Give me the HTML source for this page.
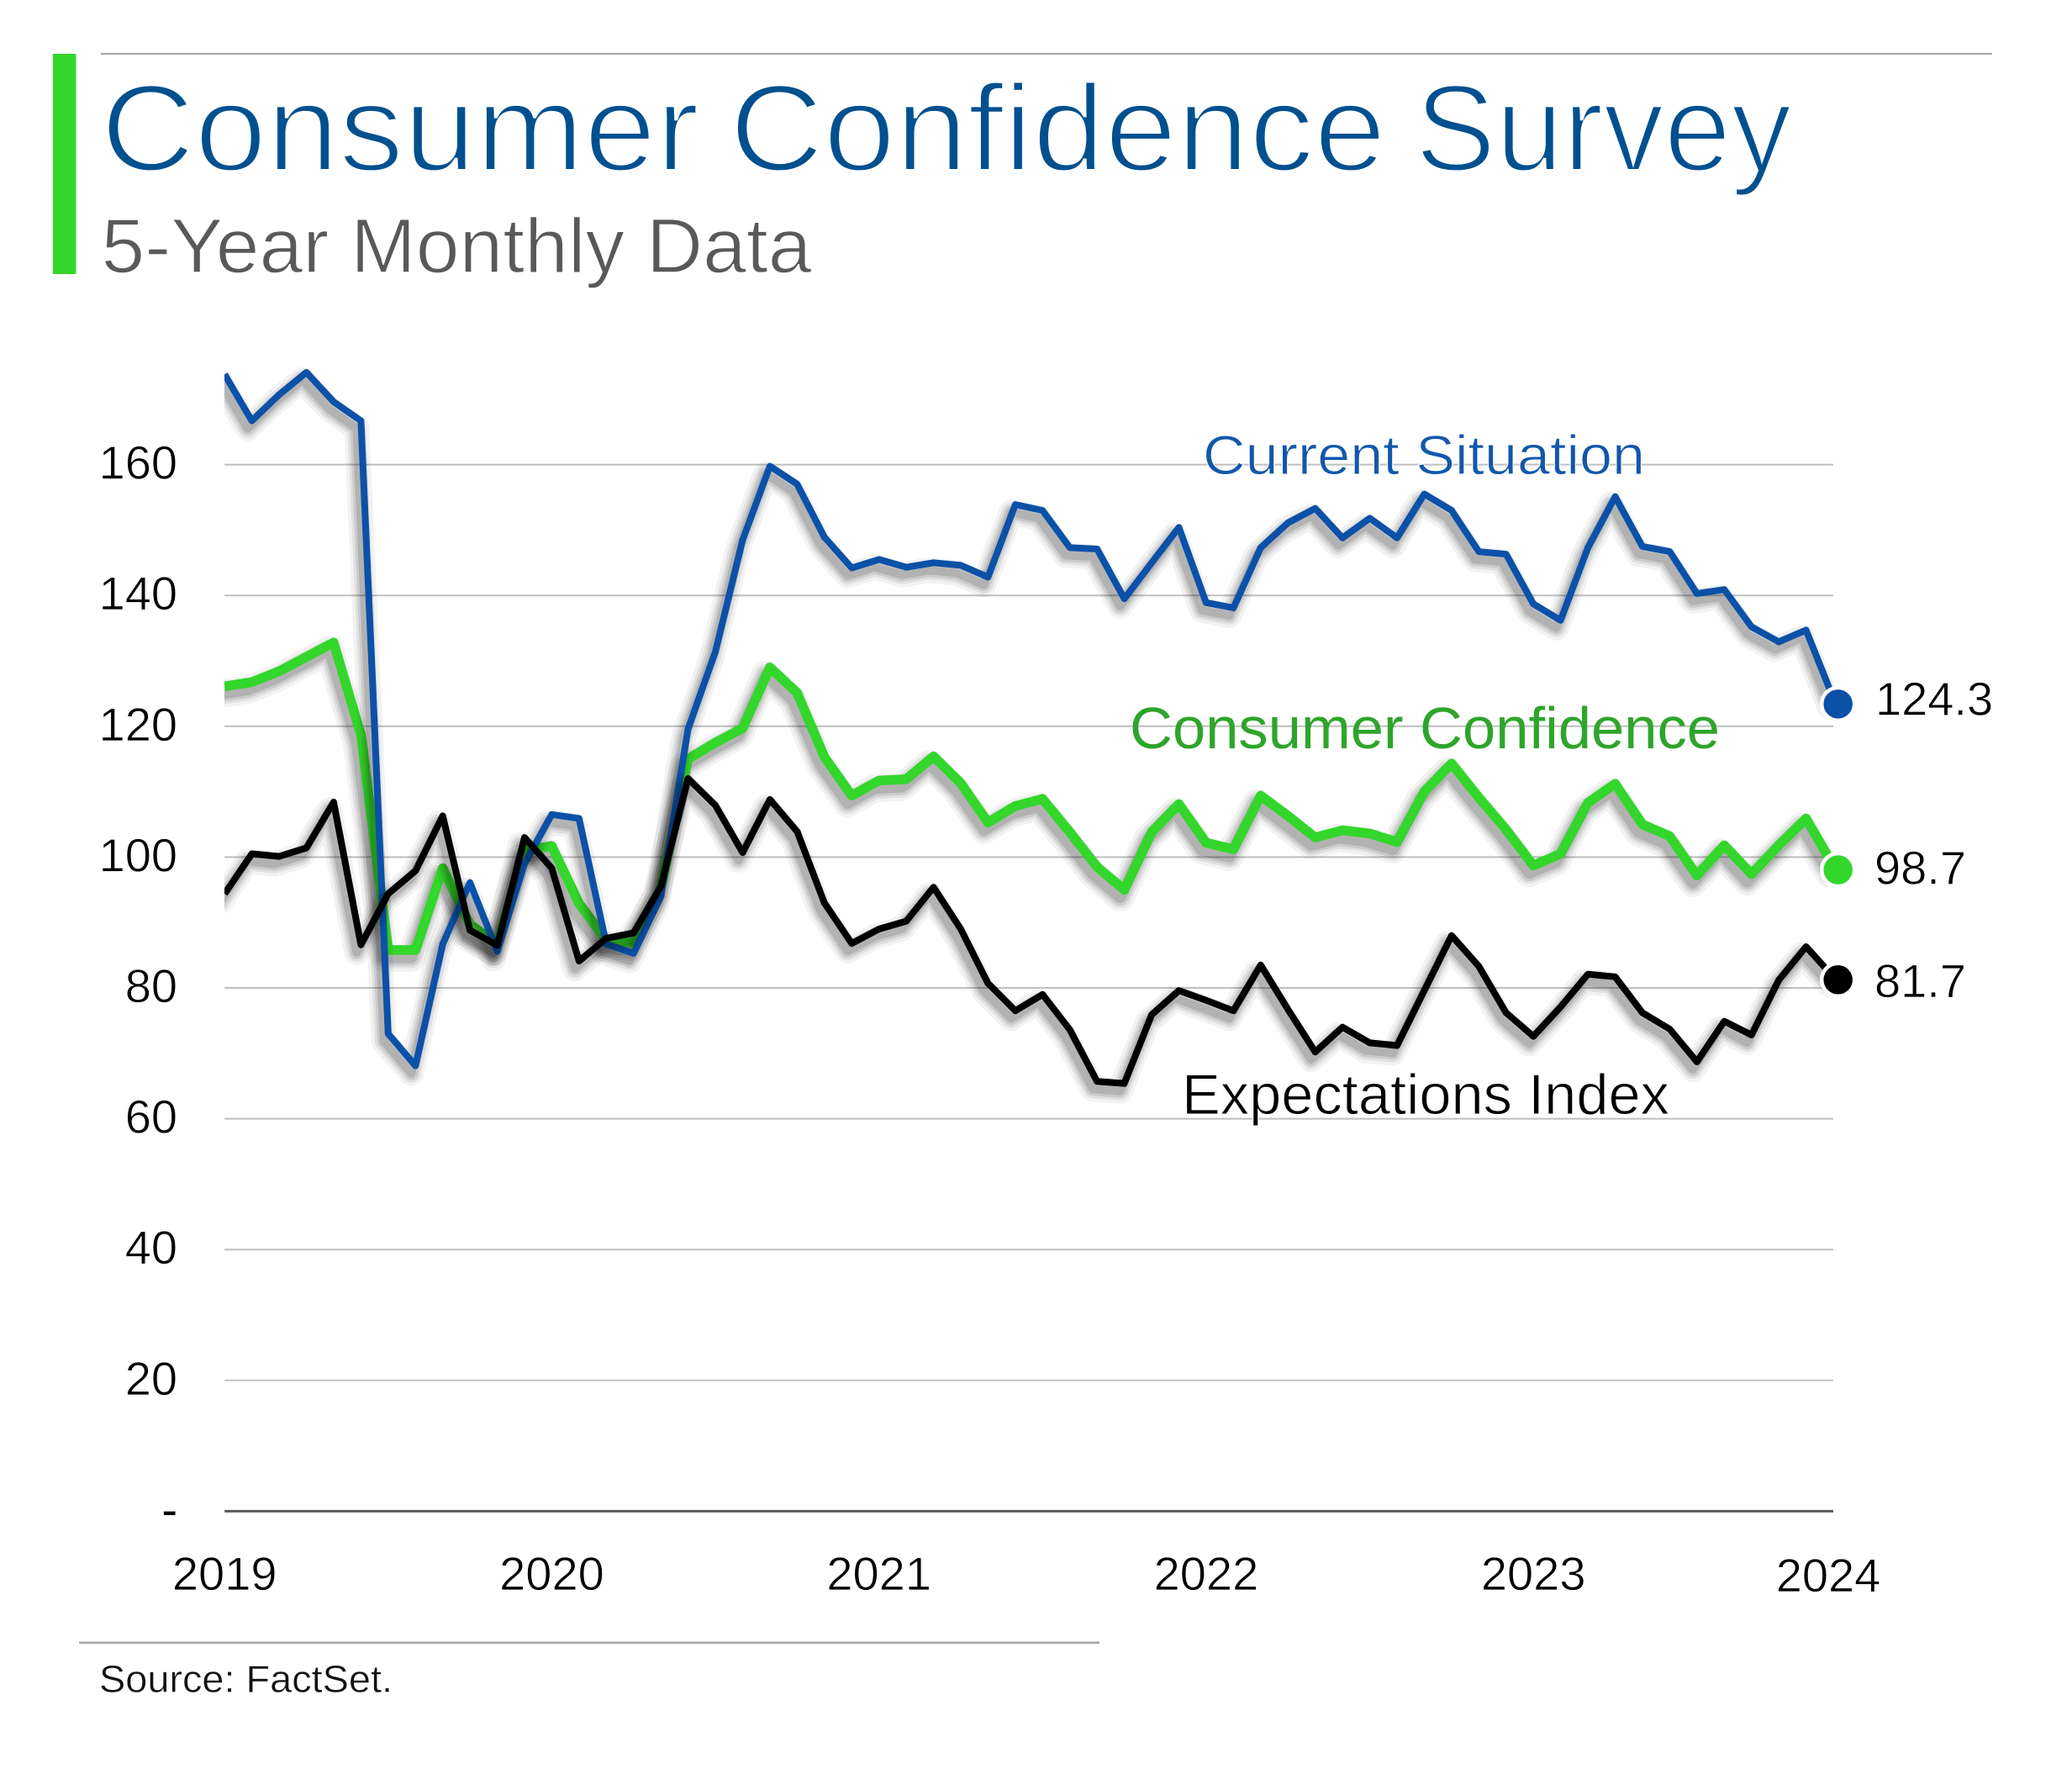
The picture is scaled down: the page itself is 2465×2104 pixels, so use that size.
<!DOCTYPE html>
<html lang="en">
<head>
<meta charset="utf-8">
<title>Consumer Confidence Survey</title>
<style>
html,body{margin:0;padding:0;background:#fff;width:2465px;height:2104px;overflow:hidden}
svg{display:block}
text{font-family:"Liberation Sans",sans-serif}
</style>
</head>
<body>
<svg id="chart" xmlns="http://www.w3.org/2000/svg" width="2465" height="2104" viewBox="0 0 2465 2104">
  <defs>
    <clipPath id="plot-clip"><rect x="267" y="300" width="1960" height="1497"/></clipPath>
  </defs>
  <rect x="0" y="0" width="2465" height="2104" fill="#ffffff"/>
  <rect x="63" y="64" width="27.5" height="262" fill="#33d62b"/>
  <rect x="120" y="63" width="2250" height="2" fill="#a6a6a6"/>
  <g font-size="147" fill="#00508f" stroke="#ffffff" stroke-width="4" paint-order="fill stroke">
    <text x="120" y="203" textLength="712" lengthAdjust="spacingAndGlyphs">Consumer</text>
    <text x="868" y="203" textLength="781" lengthAdjust="spacingAndGlyphs">Confidence</text>
    <text x="1683.5" y="203" textLength="448" lengthAdjust="spacingAndGlyphs">Survey</text>
  </g>
  <text x="120.5" y="324" font-size="92" fill="#595959" textLength="845" lengthAdjust="spacingAndGlyphs" stroke="#ffffff" stroke-width="1.5" paint-order="fill stroke">5-Year Monthly Data</text>
  <g id="grid"></g>
  <g id="y-axis"></g>
  <g id="x-axis"></g>
  <g id="series" clip-path="url(#plot-clip)"></g>
  <g id="endpoints"></g>
  <text x="1431" y="564" font-size="66" fill="#1257ac" textLength="526" lengthAdjust="spacingAndGlyphs" stroke="#ffffff" stroke-width="1" paint-order="fill stroke">Current Situation</text>
  <text x="1344" y="890" font-size="70" fill="#2ea52a" textLength="702" lengthAdjust="spacingAndGlyphs">Consumer Confidence</text>
  <text x="1406" y="1325" font-size="68" fill="#000000" textLength="580" lengthAdjust="spacingAndGlyphs" stroke="#ffffff" stroke-width="1" paint-order="fill stroke">Expectations Index</text>
  <rect x="94" y="1952.5" width="1214" height="2.5" fill="#a6a6a6"/>
  <text x="118" y="2012.5" font-size="45" fill="#111111" textLength="349" lengthAdjust="spacingAndGlyphs" stroke="#ffffff" stroke-width="0.5" paint-order="fill stroke">Source: FactSet.</text>
</svg>
<script>
const yTicks = [20, 40, 60, 80, 100, 120, 140, 160];
const yearLabels = ['2019', '2020', '2021', '2022', '2023', '2024'];
const yearMonthIndex = [0, 12, 24, 36, 48, 59];
const currentSituation = [173.8,166.7,170.7,174.1,169.6,166.7,73,68.1,86.7,96.1,85.6,99,106.5,105.9,86.7,85.3,94,119.6,131.4,148.5,159.75,157,148.9,144.2,145.5,144.3,145,144.6,142.8,153.9,153,147.3,147.1,139.5,145,150.4,138.9,138.1,147.3,151.1,153.3,148.8,151.8,148.8,155.5,153,146.7,146.3,138.7,136.2,147.3,155.1,147.5,146.7,140.3,140.9,135.2,132.9,134.7,124.3];
const consumerConfidence = [126.1,126.75,128.4,130.6,132.8,118.7,85.8,85.8,98.3,89.7,86.7,101,101.7,92.9,87.3,86.9,95.3,115,117.5,119.7,129,125.1,115.3,109.4,111.7,111.9,115.4,111.3,105.3,107.8,108.9,103.8,98.5,95,103.8,108.1,102.2,101.2,109.4,106.3,103,104.1,103.6,102.3,110,114.3,109.1,104.2,98.7,100.5,108.3,111.2,105,103.2,97.2,101.8,97.4,101.8,105.9,98.7];
const expectationsIndex = [94.4,100.5,100.1,101.4,108.4,86.6,94.4,97.9,106.3,88.8,86.5,103,98.3,84.1,87.6,88.4,95.5,112,107.9,100.7,108.8,103.9,93,86.8,89,90.2,95.4,89,80.7,76.5,79,73.6,65.7,65.4,75.9,79.6,78.1,76.5,83.5,76.7,70.2,74,71.6,71.2,79.6,88,83.3,76.2,72.6,77.1,82.1,81.7,76.2,73.7,68.7,74.9,72.8,81.2,86.3,81.7];
const endValueLabels = ['124.3', '98.7', '81.7'];

const NS = 'http://www.w3.org/2000/svg';
const xLeft = 267.2, xRight = 2181;
function xScale(i) { return xLeft + (xRight - xLeft) * i / (currentSituation.length - 1); }
function yScale(v) { return 1797.4 - 7.78 * v; }
function make(tag, attrs, parent) {
  const el = document.createElementNS(NS, tag);
  for (const k in attrs) el.setAttribute(k, attrs[k]);
  parent.appendChild(el);
  return el;
}

const gridG = document.getElementById('grid');
const yG = document.getElementById('y-axis');
const xG = document.getElementById('x-axis');
const seriesG = document.getElementById('series');
const endG = document.getElementById('endpoints');
const thinText = {stroke: '#ffffff', 'stroke-width': 0.7, 'paint-order': 'fill stroke'};

yTicks.forEach(function (t) {
  const line = make('line', {x1: xLeft, x2: xRight, y1: yScale(t), y2: yScale(t), stroke: '#bfbfbf', 'stroke-width': 2}, gridG);
  
  
  const label = make('text', Object.assign({x: 211, y: yScale(t) + 17, 'font-size': 56, 'text-anchor': 'end', fill: '#000000'}, thinText), yG);
  label.textContent = String(t);
  
  
});
const zeroLabel = make('text', {x: 211, y: yScale(0) + 17, 'font-size': 56, 'text-anchor': 'end', fill: '#000000'}, yG);
zeroLabel.textContent = '-';


const axisLine = make('line', {x1: xLeft, x2: xRight, y1: yScale(0), y2: yScale(0), stroke: '#595959', 'stroke-width': 3}, gridG);



yearLabels.forEach(function (lab, k) {
  const isLast = k === yearLabels.length - 1;
  const tx = make('text', Object.assign({x: xScale(yearMonthIndex[k]) + (isLast ? -6 : 0), y: isLast ? 1893 : 1891, 'font-size': 56, 'text-anchor': 'middle', fill: '#000000'}, thinText), xG);
  tx.textContent = lab;
  
  
});

function pathFor(values) {
  return values.map(function (v, i) { return (i ? 'L' : 'M') + xScale(i).toFixed(1) + ' ' + yScale(v).toFixed(1); }).join(' ');
}
const drawOrder = [
  {name: 'consumer-confidence', values: consumerConfidence, color: '#33d62b', width: 11.5},
  {name: 'current-situation', values: currentSituation, color: '#0b51a8', width: 8},
  {name: 'expectations-index', values: expectationsIndex, color: '#000000', width: 8}
];
const shadowSpread = [22, 14, 8, 2];
const shadowAlpha = [0.05, 0.07, 0.09, 0.12];
drawOrder.forEach(function (s) {
  shadowSpread.forEach(function (extra, n) {
    const sh = make('path', {d: pathFor(s.values), transform: 'translate(-5 9)', fill: 'none', stroke: '#000000', 'stroke-opacity': shadowAlpha[n], 'stroke-width': s.width + extra, 'stroke-linejoin': 'round', 'stroke-linecap': 'round'}, seriesG);
    
    
  });
  const p = make('path', {d: pathFor(s.values), fill: 'none', stroke: s.color, 'stroke-width': s.width, 'stroke-linejoin': 'round', 'stroke-linecap': 'butt'}, seriesG);
  
  
});

const endOrder = [
  {name: 'current-situation', values: currentSituation, color: '#0b51a8', labelX: 2231, dotDy: 7, labelDy: 20.4},
  {name: 'consumer-confidence', values: consumerConfidence, color: '#33d62b', labelX: 2230, dotDy: 5, labelDy: 22.2},
  {name: 'expectations-index', values: expectationsIndex, color: '#000000', labelX: 2230, dotDy: 3.5, labelDy: 24.2}
];
endOrder.forEach(function (s, k) {
  const last = s.values[s.values.length - 1];
  const dot = make('circle', {cx: xScale(s.values.length - 1) + 5.7, cy: yScale(last) + s.dotDy, r: 19.5, fill: s.color, stroke: '#ffffff', 'stroke-width': 4.5}, endG);
  
  
  const lbl = make('text', Object.assign({x: s.labelX, y: yScale(last) + s.labelDy, 'font-size': 56, fill: '#000000'}, thinText), endG);
  lbl.textContent = endValueLabels[k];
  
  
});
</script>
</body>
</html>
